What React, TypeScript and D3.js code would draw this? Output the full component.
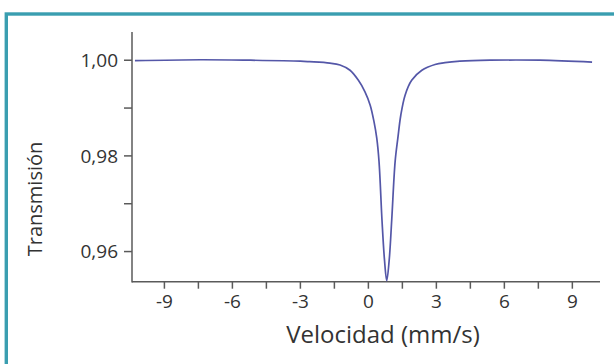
import React from 'react';
import * as d3 from 'd3';

// values
const velocity = [
    -10.3, -7.4, -5.2, -3.0, -2.6, -1.7, -1.25, -0.81, -0.44, -0.15, 0.08, 0.25,
    0.37, 0.47, 0.6, 0.71, 0.81, 0.92, 1.03, 1.18, 1.3, 1.43, 1.62, 1.91, 2.36,
    2.94, 3.38, 4.04, 5.37, 7.57, 9.87,
];
const transmission = [
    0.9999, 1.0001, 1.0, 0.9998, 0.9997, 0.9994, 0.999, 0.9979, 0.9958, 0.9934,
    0.9906, 0.9871, 0.9837, 0.9788, 0.9666, 0.9583, 0.9539, 0.9583, 0.9666,
    0.9788, 0.9837, 0.9885, 0.9927, 0.9958, 0.9979, 0.9991, 0.9995, 0.9998, 1.0,
    1.0, 0.9996,
];

const xTicks = [-9, -6, -3, 0, 3, 6, 9];
const xMinorTicks = [-7.5, -4.5, -1.5, 1.5, 4.5, 7.5];
const yTicks = [1.0, 0.98, 0.96];
const yMinorTicks = [0.99, 0.97];

const xExtent = [-10.43, 10.22];
const yExtent = [0.9537, 1.0059];

const width = 614;
const height = 364;
const margin = { left: 132, right: 14, top: 32, bottom: 82.3 };

const font = '"Open Sans", sans-serif';
const axisColor = '#5a5a5a';
const textColor = '#333';

export default function App() {
    const x = d3.scaleLinear(xExtent, [margin.left, width - margin.right]);
    const y = d3.scaleLinear(yExtent, [height - margin.bottom, margin.top]);

    const line = d3
        .line<number>((d, i) => x(velocity[i]), (d) => y(d))
        .curve(d3.curveCatmullRom.alpha(0.5));

    const x0 = margin.left;
    const y0 = height - margin.bottom;

    return (
        <svg
            width={width}
            height={height}
            style={{ position: 'absolute', left: 0, top: 0, background: '#fff' }}
        >
            <rect
                x={6.3}
                y={14}
                width={width + 20}
                height={height + 20}
                fill="none"
                stroke="#3a9eb0"
                strokeWidth="3.4"
            />

            {/* axes */}
            <g stroke={axisColor} strokeWidth="1.5">
                <line x1={x0} x2={x0} y1={margin.top} y2={y0 + 0.75} />
                <line x1={x0} x2={width - margin.right} y1={y0} y2={y0} />
                {yTicks.concat(yMinorTicks).map((t) => (
                    <line key={t} x1={x0 - 8} x2={x0} y1={y(t)} y2={y(t)} />
                ))}
                {xTicks.concat(xMinorTicks).map((t) => (
                    <line key={t} x1={x(t)} x2={x(t)} y1={y0} y2={y0 + 7} />
                ))}
            </g>

            <g fontFamily={font} fontSize="19" fill={textColor}>
                {yTicks.map((t) => (
                    <text key={t} x={x0 - 14} y={y(t)} dy="0.35em" textAnchor="end">
                        {t.toFixed(2).replace('.', ',')}
                    </text>
                ))}
                {xTicks.map((t) => (
                    <text key={t} x={x(t)} y={y0 + 26} textAnchor="middle">
                        {t < 0 ? '-' + Math.abs(t) : t}
                    </text>
                ))}
            </g>

            <text
                x={383}
                y={343}
                textAnchor="middle"
                fontFamily={font}
                fontSize="24"
                fill={textColor}
            >
                Velocidad (mm/s)
            </text>
            <text
                transform="translate(42,199) rotate(-90)"
                textAnchor="middle"
                fontFamily={font}
                fontSize="20"
                fill={textColor}
            >
                Transmisión
            </text>

            <path
                d={line(transmission) ?? ''}
                fill="none"
                stroke="#5457a8"
                strokeWidth="1.7"
            />
        </svg>
    );
}
